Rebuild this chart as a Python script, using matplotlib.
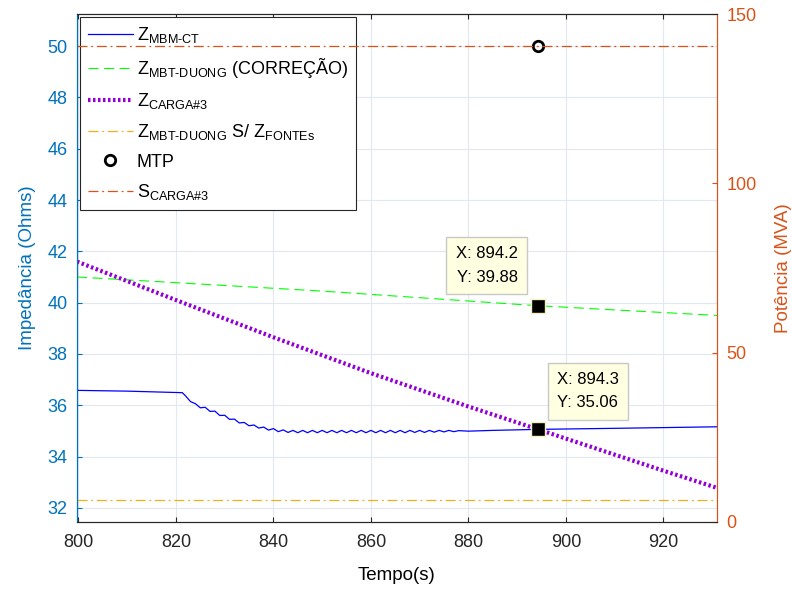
import matplotlib.pyplot as plt
import numpy as np

plt.rcParams['font.family'] = ['Liberation Sans', 'DejaVu Sans']
plt.rcParams['mathtext.fontset'] = 'custom'
plt.rcParams['mathtext.rm'] = 'Liberation Sans'
plt.rcParams['mathtext.it'] = 'Liberation Sans'

C_LEFT = '#0072BD'
C_RIGHT = '#D95319'

# Z_MBM-CT (blue, oscillating decay)
t_ct = [799.7, 810, 821.3, 822, 823, 824, 825, 826, 827, 828, 829, 830, 831, 832, 833,
        834, 835, 836, 837, 838, 839, 840, 841, 842, 843, 844, 845, 846, 847, 848, 849,
        850, 851, 852, 853, 854, 855, 856, 857, 858, 859, 860, 861, 862, 863, 864, 865,
        866, 867, 868, 869, 870, 871, 872, 873, 874, 875, 876, 877, 878, 880, 885, 894.3,
        910, 931]
z_ct = [36.58, 36.55, 36.49, 36.36, 36.14, 36.06, 35.90, 35.92, 35.76, 35.77, 35.60,
        35.61, 35.45, 35.46, 35.31, 35.33, 35.20, 35.23, 35.11, 35.15, 35.03, 35.09,
        34.97, 35.04, 34.94, 35.02, 34.93, 35.02, 34.93, 35.02, 34.93, 35.02, 34.93,
        35.02, 34.93, 35.02, 34.93, 35.02, 34.93, 35.02, 34.93, 35.02, 34.93, 35.02,
        34.93, 35.02, 34.93, 35.02, 34.93, 35.02, 34.94, 35.02, 34.94, 35.02, 34.95,
        35.02, 34.96, 35.02, 34.97, 35.01, 34.99, 35.02, 35.06, 35.10, 35.16]

# Z_MBT-DUONG (CORREÇÃO)
t_duong = [799.7, 850, 894.2, 931]
z_duong = [41.0, 40.45, 39.88, 39.5]

# Z_CARGA#3
t_carga = [799.7, 820, 840, 860, 880, 894.3, 900, 920, 931]
z_carga = [41.6, 40.1, 38.65, 37.25, 35.95, 35.06, 34.7, 33.45, 32.78]

# Z_MBT-DUONG S/ Z_FONTES
t_fontes = [799.7, 931]
z_fontes = [32.31, 32.31]

# MTP
t_mtp = [894.2]
z_mtp = [50.0]

# S_CARGA#3 (right axis, MVA)
t_s = [799.7, 931]
s_carga = [140.5, 140.5]

# data tips
tip_x = [894.2, 894.3]
tip_y = [39.88, 35.06]

fig = plt.figure(figsize=(7.92, 5.89), dpi=100)
ax = fig.add_axes([0.0972, 0.1138, 0.8081, 0.8624])
ax2 = ax.twinx()

l1, = ax.plot(t_ct, z_ct, color=(0, 0, 1), lw=0.9)
l2, = ax.plot(t_duong, z_duong, color=(0, 1, 0), lw=0.8, ls=(0, (9, 5)))
l3, = ax.plot(t_carga, z_carga, color='#9400D3', lw=3, ls=(0, (0.6, 0.6)))
l4, = ax.plot(t_fontes, z_fontes, color='#EDB120', lw=0.9, ls=(0, (8, 3, 1.5, 3)))
l5, = ax.plot(t_mtp, z_mtp, ls='none', marker='o', mfc='none', mec='k', mew=2, ms=7.5)
l6, = ax2.plot(t_s, s_carga, color=C_RIGHT, lw=0.9, ls=(0, (8, 3, 1.5, 3)))

# data tips
ax.plot(tip_x, tip_y, ls='none', marker='s', ms=10, mfc='k', mec='#F0F0C0', mew=1, zorder=5)
box = dict(boxstyle='square,pad=0.55', fc='#FFFFE1', ec='#C8C8C8', lw=1)
ax.annotate(f'X: {tip_x[0]}\nY: {tip_y[0]}', (tip_x[0], tip_y[0]), xytext=(-20, 21),
            textcoords='offset pixels', fontsize=12, bbox=box, linespacing=1.7,
            ha='right', va='bottom')
ax.annotate(f'X: {tip_x[1]}\nY: {tip_y[1]}', (tip_x[1], tip_y[1]), xytext=(19, 19),
            textcoords='offset pixels', fontsize=12, bbox=box, linespacing=1.7,
            ha='left', va='bottom')

ax.set_xlim(799.7, 931)
ax.set_ylim(31.45, 51.25)
ax2.set_ylim(0, 150)
ax.set_xticks(np.arange(800, 921, 20))
ax.set_yticks(np.arange(32, 51, 2))
ax2.set_yticks([0, 50, 100, 150])

ax.grid(True, color='#E1E8F0', lw=0.8)
ax.set_axisbelow(True)

ax.set_xlabel('Tempo(s)', fontsize=13.5, labelpad=11)
ax.set_ylabel('Impedância (Ohms)', fontsize=13.5, color=C_LEFT, labelpad=8)
ax2.set_ylabel('Potência (MVA)', fontsize=13.5, color=C_RIGHT, labelpad=13)

ax.tick_params(axis='x', direction='in', labelsize=13, colors='#262626', top=True, pad=9)
ax.tick_params(axis='y', direction='in', labelsize=13, colors=C_LEFT, pad=7)
ax2.tick_params(axis='y', direction='in', labelsize=13, colors=C_RIGHT, pad=7)
for a in (ax, ax2):
    a.spines['left'].set_color(C_LEFT)
    a.spines['right'].set_color(C_RIGHT)
    a.spines['top'].set_color('#262626')
    a.spines['bottom'].set_color('#262626')

labels = [r'Z$_{\mathrm{MBM\text{-}CT}}$',
          r'Z$_{\mathrm{MBT\text{-}DUONG}}$ (CORREÇÃO)',
          r'Z$_{\mathrm{CARGA\#3}}$',
          r'Z$_{\mathrm{MBT\text{-}DUONG}}$ S/ Z$_{\mathrm{FONTEs}}$',
          'MTP',
          r'S$_{\mathrm{CARGA\#3}}$']
leg = ax.legend([l1, l2, l3, l4, l5, l6], labels, loc='upper left', fontsize=13,
                fancybox=False, framealpha=1, edgecolor='#262626', handlelength=2.5,
                borderaxespad=0.15, labelspacing=0.62, handletextpad=0.2, borderpad=0.45)
leg.get_frame().set_linewidth(0.8)
leg.set_zorder(10)

fig.savefig('out.png', dpi=100)
